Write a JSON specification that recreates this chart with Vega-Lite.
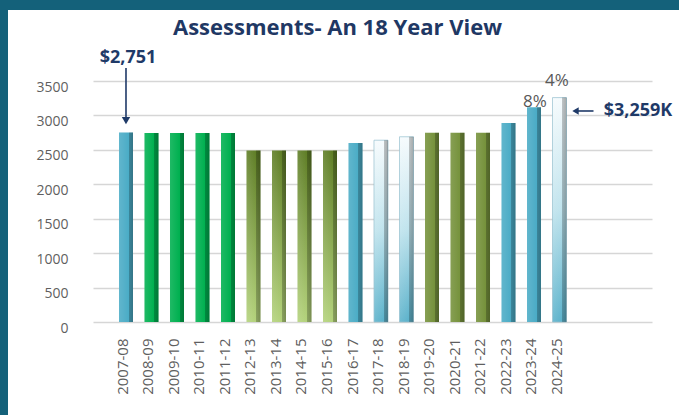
{
  "$schema": "https://vega.github.io/schema/vega-lite/v6.json",
  "width": 671,
  "height": 405,
  "autosize": {"type": "none"},
  "padding": {"left": 8, "top": 10, "right": 0, "bottom": 0},
  "background": "#14617a",
  "title": {
    "text": "Assessments- An 18 Year View",
    "anchor": "middle",
    "frame": "group",
    "offset": -20,
    "dy": 20,
    "baseline": "middle",
    "font": "Open Sans",
    "fontSize": 22,
    "fontWeight": "bold",
    "color": "#1F3864",
    "dx": -6
  },
  "datasets": {
    "bars": [
      {"year": "2007-08", "value": 2751, "group": "aqua"},
      {"year": "2008-09", "value": 2745, "group": "green"},
      {"year": "2009-10", "value": 2745, "group": "green"},
      {"year": "2010-11", "value": 2745, "group": "green"},
      {"year": "2011-12", "value": 2745, "group": "green"},
      {"year": "2012-13", "value": 2490, "group": "olivegrad"},
      {"year": "2013-14", "value": 2490, "group": "olivegrad"},
      {"year": "2014-15", "value": 2490, "group": "olivegrad"},
      {"year": "2015-16", "value": 2490, "group": "olivegrad"},
      {"year": "2016-17", "value": 2600, "group": "aqua"},
      {"year": "2017-18", "value": 2640, "group": "light"},
      {"year": "2018-19", "value": 2690, "group": "light"},
      {"year": "2019-20", "value": 2750, "group": "olive"},
      {"year": "2020-21", "value": 2750, "group": "olive"},
      {"year": "2021-22", "value": 2750, "group": "olive"},
      {"year": "2022-23", "value": 2890, "group": "aqua"},
      {"year": "2023-24", "value": 3120, "group": "aqua"},
      {"year": "2024-25", "value": 3259, "group": "light"}
    ]
  },
  "data": {"name": "bars"},
  "encoding": {
    "x": {
      "field": "year",
      "type": "nominal",
      "sort": null,
      "scale": {
        "domain": ["2007-08","2008-09","2009-10","2010-11","2011-12","2012-13","2013-14","2014-15","2015-16","2016-17","2017-18","2018-19","2019-20","2020-21","2021-22","2022-23","2023-24","2024-25"," ","  ","   "],
        "range": [85, 644],
        "paddingInner": 0.451,
        "paddingOuter": 0.686,
        "align": 0.743
      },
      "axis": {
        "title": null,
        "values": ["2007-08","2008-09","2009-10","2010-11","2011-12","2012-13","2013-14","2014-15","2015-16","2016-17","2017-18","2018-19","2019-20","2020-21","2021-22","2022-23","2023-24","2024-25"],
        "labelAngle": -90,
        "domain": false,
        "ticks": false,
        "tickSize": 0,
        "grid": false,
        "offset": -80,
        "labelPadding": 3,
        "labelFontSize": 15,
        "labelOffset": -3
      }
    },
    "y": {
      "field": "value",
      "type": "quantitative",
      "scale": {"domain": [0, 3500], "range": [312, 71], "nice": false, "zero": true},
      "axis": {
        "title": null,
        "values": [0, 500, 1000, 1500, 2000, 2500, 3000, 3500],
        "format": "d",
        "domain": false,
        "ticks": false,
        "tickSize": 0,
        "grid": true,
        "gridColor": "#d6d6d6",
        "gridWidth": 1.5,
        "offset": -85,
        "labelPadding": 25,
        "labelOffset": 6,
        "labelFontSize": 14
      }
    }
  },
  "layer": [
    {
      "transform": [{"filter": "datum.group === 'aqua' || datum.group === 'green' || datum.group === 'olive'"}],
      "mark": {"type": "bar"},
      "encoding": {
        "color": {
          "field": "group",
          "type": "nominal",
          "scale": {"domain": ["aqua", "green", "olive"], "range": ["#4BACC6", "#00B050", "#76923C"]},
          "legend": null
        }
      }
    },
    {
      "transform": [{"filter": "datum.group === 'olivegrad'"}],
      "mark": {
        "type": "bar",
        "fill": {"gradient": "linear", "x1": 0, "y1": 0, "x2": 0, "y2": 1,
          "stops": [{"offset": 0, "color": "#5E7D25"}, {"offset": 1, "color": "#B3D27B"}]}
      }
    },
    {
      "transform": [{"filter": "datum.group === 'light'"}],
      "mark": {
        "type": "bar",
        "stroke": "#8fbccb",
        "strokeWidth": 0.7,
        "fill": {"gradient": "linear", "x1": 0, "y1": 0, "x2": 0, "y2": 1,
          "stops": [{"offset": 0, "color": "#F6FBFD"}, {"offset": 0.5, "color": "#BFE3ED"}, {"offset": 1, "color": "#5BB2CB"}]}
      }
    },
    {
      "mark": {
        "type": "bar",
        "fill": {"gradient": "linear", "x1": 0, "y1": 0, "x2": 1, "y2": 0,
          "stops": [
            {"offset": 0, "color": "rgba(255,255,255,0.12)"},
            {"offset": 0.68, "color": "rgba(255,255,255,0)"},
            {"offset": 0.7, "color": "rgba(0,0,0,0.22)"},
            {"offset": 1, "color": "rgba(0,0,0,0.32)"}
          ]}
      }
    },
    {
      "data": {"values": [{"year": "2007-08", "value": 2751}]},
      "mark": {"type": "rule", "yOffset": -64.6, "y2Offset": -14, "strokeWidth": 1.6, "color": "#1F3A68"},
      "encoding": {"y2": {"field": "value"}}
    },
    {
      "data": {"values": [{"year": "2007-08", "value": 2751}]},
      "mark": {"type": "point", "shape": "triangle-down", "filled": true, "size": 70, "yOffset": -12, "color": "#1F3A68", "opacity": 1}
    },
    {
      "data": {"values": [{"year": "2007-08", "value": 2751, "label": "$2,751"}]},
      "mark": {"type": "text", "dx": 2, "dy": -74.6, "font": "Open Sans", "fontSize": 18, "fontWeight": "bold", "color": "#1F3A68", "align": "center", "baseline": "middle"},
      "encoding": {"text": {"field": "label"}}
    },
    {
      "data": {"values": [{"year": "2024-25", "value": 3259}]},
      "mark": {"type": "rule", "xOffset": 17, "x2Offset": 34, "yOffset": 13.4, "strokeWidth": 1.6, "color": "#1F3A68"},
      "encoding": {"x2": {"field": "year"}}
    },
    {
      "data": {"values": [{"year": "2024-25", "value": 3259}]},
      "mark": {"type": "point", "shape": "triangle-left", "filled": true, "size": 55, "xOffset": 16, "yOffset": 13.4, "color": "#1F3A68", "opacity": 1}
    },
    {
      "data": {"values": [{"year": "2024-25", "value": 3259, "label": "$3,259K"}]},
      "mark": {"type": "text", "dx": 78.5, "dy": 13.4, "font": "Open Sans", "fontSize": 18, "fontWeight": "bold", "color": "#1F3A68", "align": "center", "baseline": "middle"},
      "encoding": {"text": {"field": "label"}}
    },
    {
      "data": {"values": [{"year": "2023-24", "value": 3120, "label": "8%"}]},
      "mark": {"type": "text", "dx": 1, "dy": -5.5, "font": "Open Sans", "fontSize": 17, "color": "#595959", "align": "center", "baseline": "middle"},
      "encoding": {"text": {"field": "label"}}
    },
    {
      "data": {"values": [{"year": "2024-25", "value": 3259, "label": "4%"}]},
      "mark": {"type": "text", "dx": -2.5, "dy": -17, "font": "Open Sans", "fontSize": 17, "color": "#595959", "align": "center", "baseline": "middle"},
      "encoding": {"text": {"field": "label"}}
    }
  ],
  "config": {
    "view": {"fill": "#ffffff", "stroke": null},
    "axis": {"labelFont": "Open Sans", "labelColor": "#5f5f5f"}
  }
}
